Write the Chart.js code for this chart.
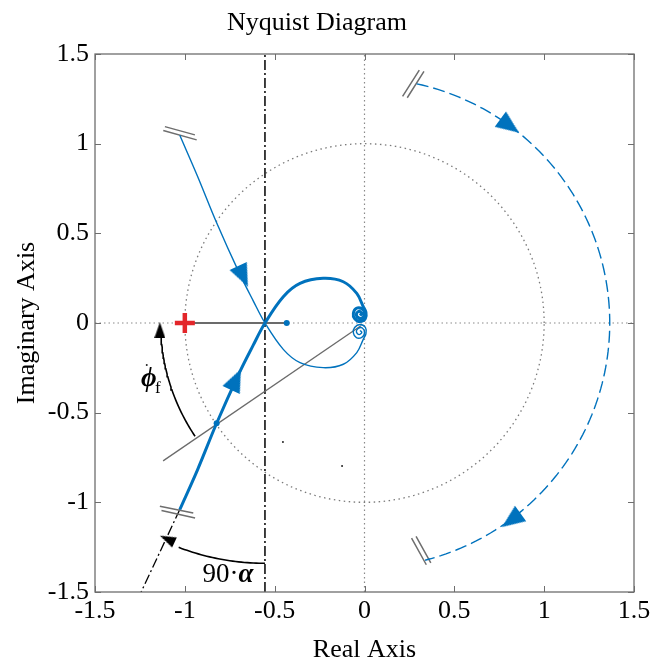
<!DOCTYPE html>
<html>
<head>
<meta charset="utf-8">
<script src="https://cdn.jsdelivr.net/npm/chart.js@4.4.1/dist/chart.umd.min.js"></script>
<style>
  html, body { margin: 0; padding: 0; background: #fff; }
  #wrap { width: 668px; height: 667px; position: relative; }
</style>
</head>
<body>
<div id="wrap"><canvas id="nyq"></canvas></div>
<script>
// ---------- data ----------
const tickValues = [-1.5, -1, -0.5, 0, 0.5, 1, 1.5];

// positive-frequency branch (thick)
const posRe = [-1.028, -0.93, -0.823, -0.70, -0.62, -0.554, -0.452, -0.359, -0.23, -0.118, -0.043, -0.007,
  0.008, 0.005, -0.025, -0.055, -0.062, -0.045, -0.015, 0, -0.012, -0.035, -0.045, -0.03, -0.015, -0.025];
const posIm = [-1.04, -0.82, -0.559, -0.285, -0.125, 0, 0.147, 0.221, 0.249, 0.23, 0.165, 0.091,
  0.06, 0.025, 0.008, 0.025, 0.055, 0.082, 0.08, 0.055, 0.028, 0.03, 0.05, 0.065, 0.052, 0.042];

// negative-frequency branch (thin)
const negRe = [-1.028, -0.93, -0.823, -0.70, -0.62, -0.554, -0.452, -0.359, -0.23, -0.118, -0.043, -0.007,
  0.008, 0.005, -0.025, -0.055, -0.062, -0.045, -0.015, 0, -0.012, -0.035, -0.045, -0.03, -0.015, -0.025];
const negIm = [1.047, 0.82, 0.559, 0.285, 0.125, 0, -0.147, -0.221, -0.249, -0.23, -0.165, -0.091,
  -0.06, -0.025, -0.008, -0.025, -0.055, -0.082, -0.08, -0.055, -0.028, -0.03, -0.05, -0.065, -0.052, -0.042];

// big dashed return arc (infinite-radius part)
const sweepRadius = 1.365;
const sweepFrom = 77.7, sweepTo = -75.7;   // degrees

const unitRadius = 1;
const crossRe = -0.554;            // real-axis crossing / dash-dot line
const criticalPoint = [-1, 0];
const marginDot = [-0.433, 0];
const bisectRe = [-1.121, -0.02];  // grey line through origin
const bisectIm = [-0.769, -0.015];
const tangentRe = [-1.028, -1.29];
const tangentIm = [-1.04, -1.60];
const hitPoint = [-0.823, -0.559];

// annotation arcs
const phiArc = { cx: 0, cy: 0, r: 1.135, from: 213.8, to: 183 };
const alphaArc = { cx: -0.554, cy: 0, r: 1.34, from: -90, to: -111 };

// break marks (two short strokes each)
const breakA = [[-1.111, 1.095], [-0.944, 1.049], null, [-1.12, 1.073], [-0.934, 1.021]];
const breakB = [[-1.139, -1.022], [-0.953, -1.059], null, [-1.13, -1.045], [-0.943, -1.087]];
const breakC = [[0.212, 1.264], [0.305, 1.41], null, [0.238, 1.256], [0.331, 1.403]];
const breakD = [[0.262, -1.199], [0.344, -1.348], null, [0.287, -1.19], [0.369, -1.338]];

// arrow heads: position and heading (deg, clockwise from up)
const blueArrowRe = [-0.715, -0.676, 0.808, 0.817];
const blueArrowIm = [-0.315, 0.26, 1.099, -1.10];
const blueArrowRot = [25, 155, 126, -126];
const blackArrowRe = [-1.139, -1.098];
const blackArrowIm = [-0.04, -1.205];
const blackArrowRot = [0, -65];

const specks = [[-0.454, -0.663], [-0.125, -0.797], [-1.212, -0.234]];

// ---------- helpers ----------
const pts = (xs, ys) => xs.map((x, i) => ({ x, y: ys[i] }));
const pairs = (arr) => arr.map((p) => (p ? { x: p[0], y: p[1] } : { x: null, y: null }));
const arc = (cx, cy, r, a0, a1, n) => {
  const out = [];
  for (let i = 0; i <= n; i++) {
    const a = ((a0 + (a1 - a0) * i / n) * Math.PI) / 180;
    out.push({ x: cx + r * Math.cos(a), y: cy + r * Math.sin(a) });
  }
  return out;
};
const makeArrow = (len, wid, color) => {
  const c = document.createElement("canvas");
  c.width = wid; c.height = len;
  const g = c.getContext("2d");
  g.fillStyle = color;
  g.beginPath();
  g.moveTo(wid / 2, 0);
  g.lineTo(wid, len);
  g.lineTo(0, len);
  g.closePath();
  g.fill();
  return c;
};

const BLUE = "#0072BD";
const SERIF = "'Liberation Serif', 'DejaVu Serif', serif";
const blueHead = makeArrow(23, 19, BLUE);
const blackHead = makeArrow(16, 11, "#000");

const line = (data, color, width, dash, extra) =>
  Object.assign({ data, borderColor: color, borderWidth: width, borderDash: dash || [],
    pointRadius: 0, showLine: true, fill: false, spanGaps: false }, extra || {});

// ---------- plugins ----------
const frame = {
  id: "frame",
  afterDatasetsDraw(chart) {
    const { ctx, chartArea: a, scales } = chart;
    ctx.save();
    ctx.strokeStyle = "#6e6e6e";
    ctx.lineWidth = 1;
    tickValues.forEach((v) => {
      const px = Math.round(scales.x.getPixelForValue(v)) + 0.5;
      const py = Math.round(scales.y.getPixelForValue(v)) + 0.5;
      ctx.beginPath();
      ctx.moveTo(px, a.bottom); ctx.lineTo(px, a.bottom - 6);
      ctx.moveTo(px, a.top); ctx.lineTo(px, a.top + 6);
      ctx.moveTo(a.left, py); ctx.lineTo(a.left + 6, py);
      ctx.moveTo(a.right, py); ctx.lineTo(a.right - 6, py);
      ctx.stroke();
    });
    ctx.lineWidth = 1.3;
    ctx.strokeRect(a.left, a.top, a.right - a.left, a.bottom - a.top);

    // text annotations
    ctx.fillStyle = "#000";
    ctx.textBaseline = "middle";
    const phX = scales.x.getPixelForValue(-1.2), phY = scales.y.getPixelForValue(-0.31);
    ctx.font = "bold italic 27px " + SERIF;
    ctx.textAlign = "center";
    ctx.fillText("\u03D5", phX, phY);
    ctx.font = "17px " + SERIF;
    ctx.textAlign = "left";
    ctx.fillText("f", phX + 6, phY + 10);

    const alX = scales.x.getPixelForValue(-0.76), alY = scales.y.getPixelForValue(-1.405);
    ctx.font = "27px " + SERIF;
    const w1 = ctx.measureText("90\u00B7").width;
    ctx.font = "bold italic 27px " + SERIF;
    const w2 = ctx.measureText("\u03B1").width;
    const x0 = alX - (w1 + w2) / 2;
    ctx.textAlign = "left";
    ctx.font = "27px " + SERIF;
    ctx.fillText("90\u00B7", x0, alY);
    ctx.font = "bold italic 27px " + SERIF;
    ctx.fillText("\u03B1", x0 + w1, alY);
    ctx.restore();
  },
};

// ---------- chart ----------
const axisTicks = {
  stepSize: 0.5,
  color: "#000",
  font: { family: SERIF, size: 26 },
  maxRotation: 0,
  autoSkip: false,
  callback: (v) => String(v),
};

new Chart(document.getElementById("nyq"), {
  type: "scatter",
  data: {
    datasets: [
      { data: pts(blueArrowRe, blueArrowIm), pointStyle: blueHead, pointRotation: blueArrowRot, pointRadius: 12, showLine: false },
      { data: pts(blackArrowRe, blackArrowIm), pointStyle: blackHead, pointRotation: blackArrowRot, pointRadius: 8, showLine: false },
      { data: [{ x: criticalPoint[0], y: criticalPoint[1] }], pointStyle: "cross", pointRadius: 10, borderWidth: 4.5, borderColor: "#e3262a" },
      { data: [{ x: marginDot[0], y: marginDot[1] }, { x: hitPoint[0], y: hitPoint[1] }], pointRadius: 3, backgroundColor: BLUE, borderColor: BLUE, borderWidth: 0 },
      { data: pairs(specks), pointRadius: 1, backgroundColor: "#222", borderWidth: 0 },
      line(pts(posRe, posIm), BLUE, 3, [], { tension: 0.35 }),
      line(pts(negRe, negIm), BLUE, 1.4, [], { tension: 0.35 }),
      line(arc(0, 0, sweepRadius, sweepFrom, sweepTo, 120), BLUE, 1.4, [12, 5]),
      line(pairs(breakA), "#6e6e6e", 1.5),
      line(pairs(breakB), "#6e6e6e", 1.5),
      line(pairs(breakC), "#6e6e6e", 1.5),
      line(pairs(breakD), "#6e6e6e", 1.5),
      line(arc(phiArc.cx, phiArc.cy, phiArc.r, phiArc.from, phiArc.to, 40), "#000", 1.6),
      line(arc(alphaArc.cx, alphaArc.cy, alphaArc.r, alphaArc.from, alphaArc.to, 30), "#000", 1.6),
      line(pts(bisectRe, bisectIm), "#6b6b6b", 1.3),
      line([{ x: criticalPoint[0], y: 0 }, { x: marginDot[0], y: 0 }], "#6b6b6b", 1.8),
      line([{ x: crossRe, y: -1.5 }, { x: crossRe, y: 1.5 }], "#000", 1.5, [10, 3, 2, 3]),
      line(pts(tangentRe, tangentIm), "#000", 1.3, [10, 3, 2, 3]),
      line(arc(0, 0, unitRadius, 0, 360, 180), "#7a7a7a", 1.3, [1.5, 3.5]),
      line([{ x: -1.5, y: 0 }, { x: 1.5, y: 0 }], "#8a8a8a", 1.2, [1.5, 3]),
      line([{ x: 0, y: -1.5 }, { x: 0, y: 1.5 }], "#8a8a8a", 1.2, [1.5, 3]),
    ],
  },
  options: {
    responsive: true,
    maintainAspectRatio: false,
    animation: false,
    events: [],
    layout: { padding: { left: 0, right: 34, top: 0, bottom: 0 } },
    plugins: {
      legend: { display: false },
      tooltip: { enabled: false },
      title: {
        display: true,
        text: "Nyquist Diagram",
        color: "#000",
        font: { family: SERIF, size: 26, weight: "normal" },
        padding: { top: 8, bottom: 14.8 },
      },
    },
    scales: {
      x: {
        type: "linear", min: -1.5, max: 1.5,
        ticks: Object.assign({}, axisTicks, { padding: 4 }),
        grid: { display: false, drawTicks: false },
        border: { display: false },
        title: { display: true, text: "Real Axis", color: "#000", font: { family: SERIF, size: 26 }, padding: { top: 0, bottom: 1 } },
        afterFit: (s) => { s.height = 75; },
      },
      y: {
        type: "linear", min: -1.5, max: 1.5,
        ticks: Object.assign({}, axisTicks, { padding: 6 }),
        grid: { display: false, drawTicks: false },
        border: { display: false },
        title: { display: true, text: "Imaginary Axis", color: "#000", font: { family: SERIF, size: 26 }, padding: { top: 12, bottom: 0 } },
        afterFit: (s) => { s.width = 95; },
      },
    },
  },
  plugins: [frame],
});
</script>
</body>
</html>
